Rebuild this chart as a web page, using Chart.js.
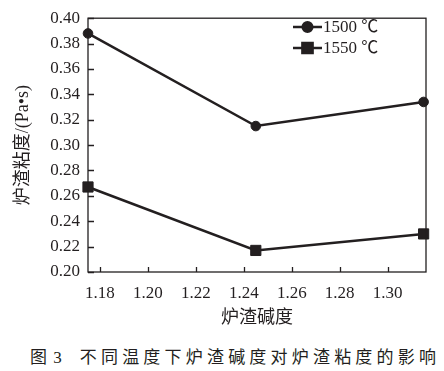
<!DOCTYPE html>
<html>
<head>
<meta charset="utf-8">
<script src="https://cdn.jsdelivr.net/npm/chart.js@4.4.1/dist/chart.umd.min.js"></script>
<style>
    body { margin: 0; background: #fff; }
    #wrap { position: relative; width: 444px; height: 371px; }
    #caption {
        position: absolute; left: 30px; top: 343px;
        font-family: "Liberation Serif", "Noto Sans CJK SC", serif;
        font-size: 17px; color: #231f20; white-space: pre;
    }
    #caption .num { letter-spacing: 1px; }
    #caption .txt { letter-spacing: 4.2px; margin-left: 17px; }
</style>
</head>
<body>
<div id="wrap">
    <canvas id="chart" width="444" height="335"></canvas>
    <div id="caption"><span class="num">图 3</span><span class="txt">不同温度下炉渣碱度对炉渣粘度的影响</span></div>
</div>
<script>
var basicity = [1.175, 1.245, 1.315];
var visc1500 = [0.388, 0.315, 0.334];
var visc1550 = [0.267, 0.217, 0.230];
var seriesNames = ['1500 ℃', '1550 ℃'];
var xTicks = [1.18, 1.20, 1.22, 1.24, 1.26, 1.28, 1.30];
var yTicks = [0.20, 0.22, 0.24, 0.26, 0.28, 0.30, 0.32, 0.34, 0.36, 0.38, 0.40];

var ink = '#231f20';
var numFont = '"Liberation Serif", "Noto Sans CJK SC", serif';

function toPoints(xs, ys) {
    return xs.map(function(x, i) { return { x: x, y: ys[i] }; });
}

// box round the plot, inward ticks and the legend inside the plot
var framePlugin = {
    id: 'frame',
    afterDraw: function(chart) {
        var ctx = chart.ctx;
        var a = chart.chartArea;
        var xs = chart.scales.x, ys = chart.scales.y;
        ctx.save();
        ctx.strokeStyle = ink;
        ctx.lineWidth = 1.3;
        ctx.strokeRect(a.left, a.top, a.right - a.left, a.bottom - a.top);
        ctx.beginPath();
        xTicks.forEach(function(v) {
            var px = Math.round(xs.getPixelForValue(v)) + 0.5;
            ctx.moveTo(px, a.bottom);
            ctx.lineTo(px, a.bottom - 5);
        });
        yTicks.forEach(function(v) {
            var py = Math.round(ys.getPixelForValue(v)) + 0.5;
            ctx.moveTo(a.left, py);
            ctx.lineTo(a.left + 6, py);
        });
        ctx.stroke();

        // legend
        var lx = 293, ly = 27;
        chart.data.datasets.forEach(function(ds, i) {
            var y = ly + i * 21;
            ctx.strokeStyle = ink;
            ctx.lineWidth = 2.5;
            ctx.beginPath();
            ctx.moveTo(lx, y);
            ctx.lineTo(lx + 29, y);
            ctx.stroke();
            Chart.helpers.drawPoint(ctx, {
                pointStyle: ds.pointStyle,
                radius: ds.pointRadius,
                borderWidth: 1
            }, lx + 14.5, y);
            ctx.fillStyle = ink;
            ctx.font = '17px ' + numFont;
            ctx.textBaseline = 'middle';
            ctx.textAlign = 'left';
            ctx.fillText(ds.label, lx + 30, y + 1);
        });
        ctx.restore();
    }
};

var ctx = document.getElementById('chart').getContext('2d');
var myChart = new Chart(ctx, {
    type: 'line',
    data: {
        datasets: [{
            label: seriesNames[0],
            data: toPoints(basicity, visc1500),
            borderColor: ink,
            backgroundColor: ink,
            borderWidth: 2.5,
            pointStyle: 'circle',
            pointRadius: 4.8,
            pointBorderWidth: 1,
            clip: false
        }, {
            label: seriesNames[1],
            data: toPoints(basicity, visc1550),
            borderColor: ink,
            backgroundColor: ink,
            borderWidth: 2.5,
            pointStyle: 'rect',
            pointRadius: 7.2,
            pointBorderWidth: 1,
            clip: false
        }]
    },
    options: {
        responsive: false,
        animation: false,
        layout: { padding: { left: 0, right: 18, top: 7, bottom: 0 } },
        plugins: {
            legend: { display: false },
            tooltip: { enabled: false }
        },
        scales: {
            x: {
                type: 'linear',
                min: 1.175,
                max: 1.316,
                grid: { display: false, drawTicks: false },
                border: { display: false },
                afterBuildTicks: function(scale) {
                    scale.ticks = xTicks.map(function(v) { return { value: v }; });
                },
                afterFit: function(scale) { scale.height = 63; },
                ticks: {
                    padding: 11,
                    color: ink,
                    font: { family: numFont, size: 17 },
                    maxRotation: 0,
                    callback: function(v) { return v.toFixed(2); }
                },
                title: {
                    display: true,
                    text: '炉渣碱度',
                    color: ink,
                    padding: { top: 0, bottom: 8 },
                    font: { family: '"Noto Sans CJK SC", sans-serif', size: 18 }
                }
            },
            y: {
                min: 0.20,
                max: 0.40,
                grid: { display: false, drawTicks: false },
                border: { display: false },
                afterBuildTicks: function(scale) {
                    scale.ticks = yTicks.map(function(v) { return { value: v }; });
                },
                afterFit: function(scale) { scale.width = 88; },
                ticks: {
                    padding: 8,
                    color: ink,
                    font: { family: numFont, size: 17 },
                    callback: function(v) { return v.toFixed(2); }
                },
                title: {
                    display: true,
                    text: '炉渣粘度/(Pa•s)',
                    color: ink,
                    padding: { top: 12, bottom: 0 },
                    font: { family: numFont, size: 18 }
                }
            }
        }
    },
    plugins: [framePlugin]
});
</script>
</body>
</html>
